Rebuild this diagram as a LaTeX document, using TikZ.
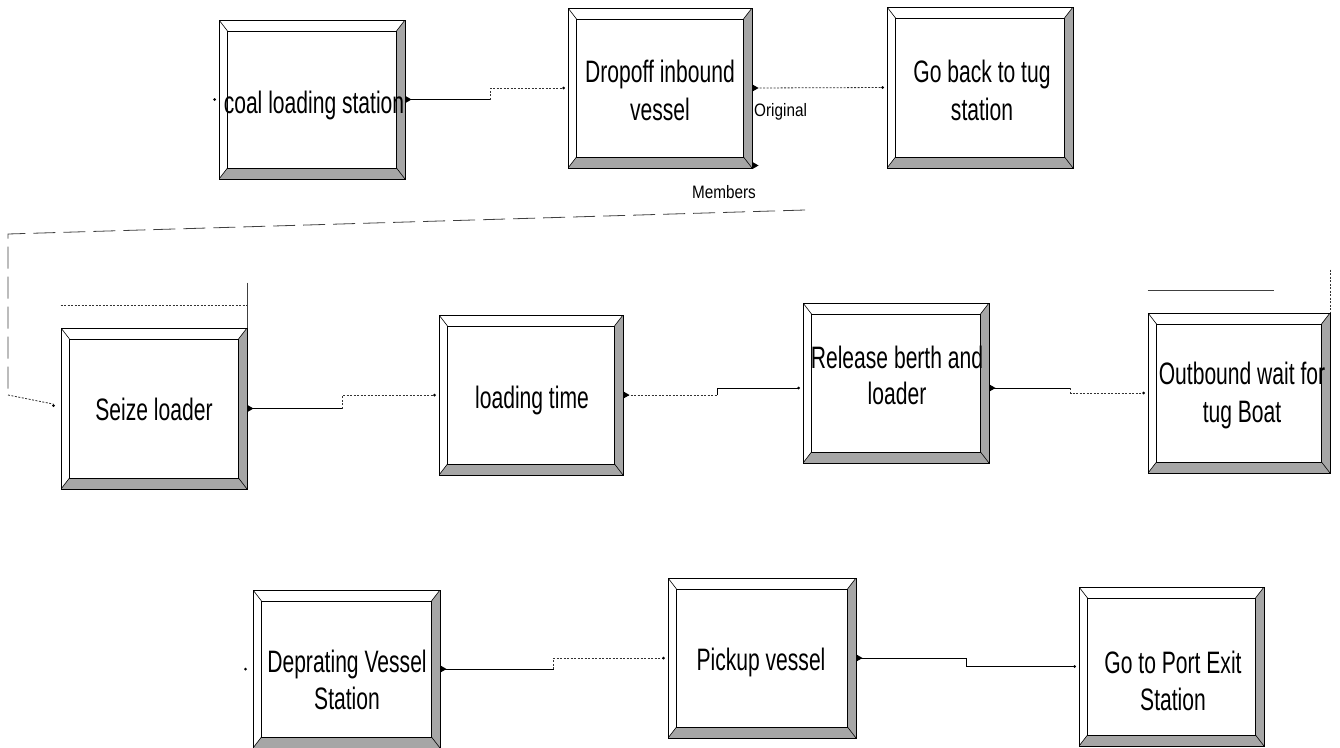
\documentclass[tikz,border=0pt]{standalone}
\usepackage{fontspec}
\setmainfont{Liberation Sans}
\newfontfamily\lblfamily{Liberation Sans}[FakeStretch=0.68]
\newfontfamily\portfamily{Liberation Sans}[FakeStretch=0.85]
\usetikzlibrary{calc}
\newcommand\myport[1]{\fill (#1) ++(0,-3.5) -- ++(6,3.5) -- ++(-6,3.5) -- cycle;}
\newcommand\myin[1]{\fill (#1) circle (1.5pt);}
\tikzset{
  bevelfill/.style={fill=black!35},
  bx/.style 2 args={draw=black, line width=1pt, minimum width=#1, minimum height=#2, inner sep=0pt,
    path picture={
      \path (path picture bounding box.north west) coordinate (pNW)
            (path picture bounding box.north east) coordinate (pNE)
            (path picture bounding box.south west) coordinate (pSW)
            (path picture bounding box.south east) coordinate (pSE);
      \path ([shift={(8.5pt,-11pt)}]pNW) coordinate (qNW)
            ([shift={(-8.5pt,-11pt)}]pNE) coordinate (qNE)
            ([shift={(8.5pt,11pt)}]pSW) coordinate (qSW)
            ([shift={(-8.5pt,11pt)}]pSE) coordinate (qSE);
      \fill[bevelfill] (pNE) -- (pSE) -- (qSE) -- (qNE) -- cycle;
      \fill[bevelfill] (pSW) -- (pSE) -- (qSE) -- (qSW) -- cycle;
      \draw[line width=0.6pt] (pNW) -- (qNW) (pNE) -- (qNE) (pSW) -- (qSW) (pSE) -- (qSE);
      \draw[line width=1pt] (qNW) rectangle (qSE);
    }},
  lbl/.style={inner sep=0pt, anchor=north, align=center, text=black},
  portlbl/.style={inner sep=0pt, font={\portfamily\fontsize{18pt}{20pt}\selectfont}},
  solidc/.style={draw=black, line width=0.8pt},
  dotc/.style={draw=black!80, line width=0.8pt, dash pattern=on 2pt off 1.5pt},
  thinc/.style={draw=black!75, line width=0.7pt},
  dashc/.style={draw=black!75, line width=0.8pt, dash pattern=on 22pt off 8pt},
  toin/.style={shorten >=4pt},
}
\begin{document}
\begin{tikzpicture}[x=1pt,y=-1pt]
\useasboundingbox (0,0) rectangle (1340,747);

% boxes
\node[bx={186pt}{159pt}] (coal) at (312,99.5) {};
\node[bx={184pt}{160pt}] (drop) at (660,88) {};
\node[bx={186pt}{161pt}] (goback) at (980,87.5) {};
\node[bx={186pt}{161pt}] (seize) at (154,408.5) {};
\node[bx={184pt}{160pt}] (loadt) at (531,395) {};
\node[bx={186pt}{160pt}] (release) at (896,383) {};
\node[bx={182pt}{160pt}] (outb) at (1239,393) {};
\node[bx={187pt}{158pt}] (dep) at (346.5,669) {};
\node[bx={188pt}{160pt}] (pick) at (762,658) {};
\node[bx={185pt}{159pt}] (goport) at (1171.5,666.5) {};

% labels
\node[lbl, font={\lblfamily\fontsize{31pt}{38pt}\selectfont}] (coal-t) at (314,90.5) {coal loading station};
\node[lbl, font={\lblfamily\fontsize{31pt}{38pt}\selectfont}] (drop-t) at (660,59.5) {Dropoff inbound\\vessel};
\node[lbl, font={\lblfamily\fontsize{31pt}{38pt}\selectfont}] (goback-t) at (982,59.5) {Go back to tug\\station};
\node[lbl, font={\lblfamily\fontsize{31pt}{38pt}\selectfont}] (seize-t) at (154,397.5) {Seize loader};
\node[lbl, font={\lblfamily\fontsize{31pt}{38pt}\selectfont}] (loadt-t) at (532,385.5) {loading time};
\node[lbl, font={\lblfamily\fontsize{31pt}{36pt}\selectfont}] (release-t) at (897,346) {Release berth and\\loader};
\node[lbl, font={\lblfamily\fontsize{31pt}{38pt}\selectfont}] (outb-t) at (1242,362) {Outbound wait for\\tug Boat};
\node[lbl, font={\lblfamily\fontsize{31pt}{37pt}\selectfont}] (dep-t) at (347,650) {Deprating Vessel\\Station};
\node[lbl, font={\lblfamily\fontsize{31pt}{38pt}\selectfont}] (pick-t) at (761,647.5) {Pickup vessel};
\node[lbl, font={\lblfamily\fontsize{31pt}{37pt}\selectfont}] (goport-t) at (1173,651) {Go to Port Exit\\Station};

\node[portlbl, anchor=base west] (orig) at (754,116) {Original};
\node[portlbl, anchor=base] (memb) at (724,198) {Members};

% queue lines
\draw[dotc] ([yshift=22pt]seize.north west) -- ([yshift=22pt]seize.north east);
\draw[thinc] ([yshift=45pt]seize.north east) -- (seize.north east);
\draw[thinc] ([yshift=22pt]outb.north west) -- ++(126,0);
\draw[dotc] ([yshift=43pt]outb.north east) -- (outb.north east);

% connectors
\draw[solidc] (coal.east) -- ++(85,0) coordinate (k1);
\draw[dotc, toin] (k1) |- (drop.west);
\draw[dotc, toin] (drop.east) -- (goback.west);

\coordinate (fbA) at (805,210);
\coordinate (fbB) at (8,234);
\coordinate (fbC) at (8,395);
\draw[dashc] (fbA) -- (fbB) -- (fbC);
\draw[dotc, shorten >=7pt] (fbC) -- ([yshift=3pt]seize.west);

\draw[solidc] (seize.east) -- ++(95,0) coordinate (k5);
\draw[dotc, toin] (k5) |- (loadt.west);
\draw[dotc] (loadt.east) -- ++(94,0) coordinate (k6);
\draw[solidc, toin] (k6) |- ([yshift=-5pt]release.west);
\draw[solidc] ([yshift=-5pt]release.east) -- ++(81,0) coordinate (k7);
\draw[dotc, toin] (k7) |- (outb.west);
\draw[solidc] (dep.east) -- ++(113,0) coordinate (k9);
\draw[dotc, toin] (k9) |- (pick.west);
\draw[solidc] (pick.east) -- ++(110,0) coordinate (k10);
\draw[solidc, toin] (k10) |- (goport.west);

% output ports
\myport{coal.east}
\myport{drop.east}
\myport{[yshift=3pt]drop.south east}
\myport{seize.east}
\myport{loadt.east}
\myport{[yshift=-5pt]release.east}
\myport{dep.east}
\myport{pick.east}

% input dots
\myin{[xshift=-4pt]coal.west}
\myin{[xshift=-4pt]drop.west}
\myin{[xshift=-4pt]goback.west}
\myin{[shift={(-7pt,3pt)}]seize.west}
\myin{[xshift=-4pt]loadt.west}
\myin{[shift={(-4pt,-5pt)}]release.west}
\myin{[xshift=-4pt]outb.west}
\myin{[xshift=-7pt]dep.west}
\myin{[xshift=-4pt]pick.west}
\myin{[xshift=-4pt]goport.west}
\end{tikzpicture}
\end{document}
